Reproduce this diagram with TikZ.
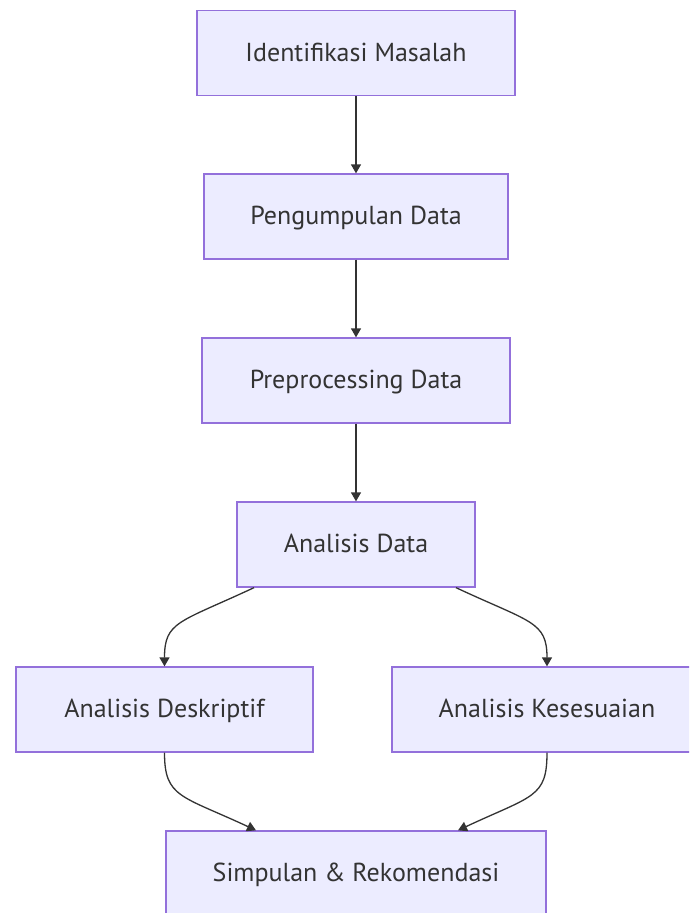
\documentclass[tikz,border=0pt]{standalone}
\usepackage{fontspec}
\setmainfont{PT Sans}
\usetikzlibrary{arrows.meta}
\definecolor{boxfill}{HTML}{ECECFF}
\definecolor{boxline}{HTML}{9370DB}
\definecolor{ink}{HTML}{333333}
\begin{document}
\begin{tikzpicture}[x=1pt,y=-1pt,
  stepbox/.style={draw=boxline,fill=boxfill,line width=1.3pt,minimum height=85pt,
    text=ink,font=\fontsize{26}{30}\selectfont,inner sep=0pt,text height=17pt,text depth=1pt},
  link/.style={draw=ink,line width=1.3pt,-{Triangle[width=10pt,length=9pt]}}]
\useasboundingbox (0,0) rectangle (689,913);
\clip (0,0) rectangle (689,913);
\fill[white] (0,0) rectangle (689,913);
\node[stepbox,minimum width=318pt] (im) at (356,53) {Identifikasi Masalah};
\node[stepbox,minimum width=304pt] (pd) at (356,216.5) {Pengumpulan Data};
\node[stepbox,minimum width=308pt] (pp) at (356,380.5) {Preprocessing Data};
\node[stepbox,minimum width=238pt] (ad) at (356,544.5) {Analisis Data};
\node[stepbox,minimum width=297pt] (de) at (164.5,709.5) {Analisis Deskriptif};
\node[stepbox,minimum width=310pt] (ks) at (547,709.5) {Analisis Kesesuaian};
\node[stepbox,minimum width=380pt] (sr) at (356,873.5) {Simpulan \& Rekomendasi};
\draw[link] (im) -- (pd);
\draw[link] (pd) -- (pp);
\draw[link] (pp) -- (ad);
\draw[link] ([xshift=-102pt]ad.south) .. controls +(-75,35) and +(0,-45) .. (de.north);
\draw[link] ([xshift=100pt]ad.south) .. controls +(75,35) and +(0,-45) .. (ks.north);
\draw[link] (de.south) .. controls +(0,45) and +(-75,-35) .. ([xshift=-100pt]sr.north);
\draw[link] (ks.south) .. controls +(0,45) and +(75,-35) .. ([xshift=102pt]sr.north);
\end{tikzpicture}
\end{document}
